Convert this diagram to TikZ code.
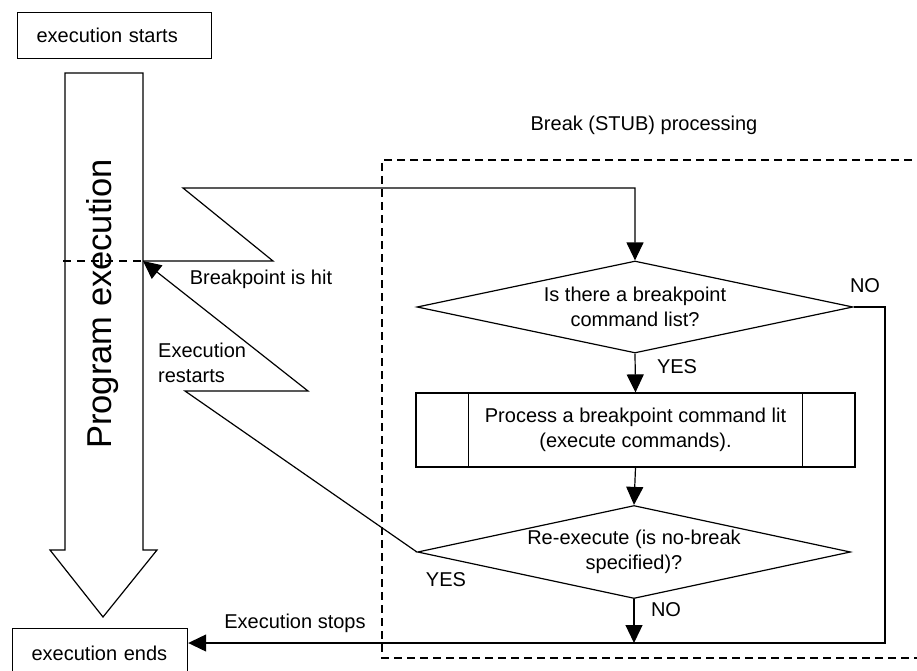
\documentclass[tikz,border=0pt]{standalone}
\usepackage{fontspec}
\setmainfont{Liberation Sans}
\usetikzlibrary{shapes.geometric,arrows.meta,calc}
\begin{document}
\begin{tikzpicture}[x=1pt,y=-1pt,
  every node/.style={font=\fontsize{20}{25}\selectfont},
  line/.style={line width=1.2pt, draw=black},
  arr/.style={line, -{Triangle[length=18pt,width=17pt]}},
  box/.style={draw, line width=1.2pt, rectangle, anchor=north west, inner xsep=19pt, inner ysep=0pt, align=left},
  decision/.style={draw, line width=1.2pt, diamond, inner sep=0pt},
  predef/.style={draw, line width=1.2pt, rectangle, minimum width=439pt, minimum height=74pt, align=center, inner sep=0pt},
  lbl/.style={inner sep=0pt},
  frame/.style={line width=1.2pt, dash pattern=on 8pt off 5pt}
]
\useasboundingbox (0,0) rectangle (917,671);
\clip (0,0) rectangle (917,671);

% start / end boxes
\node[box, text width=156pt, minimum height=46pt] (start) at (17,12) {execution starts};
\node[box, text width=137pt, minimum height=50pt] (end) at (12,628) {execution ends};

% big program execution arrow
\draw[line] (65,73) -- (143,73) -- (143,550) -- (157,550) -- (103,617) -- (50,550) -- (65,550) -- cycle;
\node[rotate=90, font=\fontsize{34.5}{40}\selectfont, inner sep=0pt] (prog) at (103,304) {Program execution};

% break processing frame
\draw[frame] (925,160) -- (382,160) -- (382,658) -- (925,658);
\node[lbl] (stub) at (644,125) {Break (STUB) processing};

% flowchart
\node[decision, minimum width=436pt, minimum height=92pt,
      label={[lbl, align=center]center:{Is there a breakpoint\\command list?}}] (d1) at (635,307) {};
\node[predef] (proc) at (635.5,430) {Process a breakpoint command lit\\(execute commands).};
\draw[line] ([xshift=53pt]proc.north west) -- ([xshift=53pt]proc.south west);
\draw[line] ([xshift=-53pt]proc.north east) -- ([xshift=-53pt]proc.south east);
\node[decision, minimum width=433pt, minimum height=93pt,
      label={[lbl, align=center]center:{Re-execute (is no-break\\specified)?}}] (d2) at (634,552) {};

% coordinates
\coordinate (hit) at (143,261);
\coordinate (shaftL) at (63,261);
\coordinate (z1) at (273,261);
\coordinate (z2) at (183,188);
\coordinate (r1) at (185,391);
\coordinate (r2) at (308,391);
\coordinate (loopx) at (885,0);
\coordinate (stopy) at (0,643);

% connectors
\draw[line, dash pattern=on 8pt off 6pt] (shaftL) -- (hit);
\draw[arr] (hit) -- (z1) -- (z2) -- (z2 -| d1.north) -- (d1.north);
\draw[arr] (d1.south) -- (proc.north);
\draw[arr] (proc.south) -- (d2.north);
\draw[arr] (d2.west) -- (r1) -- (r2) -- (hit);
\draw[arr] (d1.east) -- (d1.east -| loopx) -- (loopx |- stopy) -- (end.east |- stopy);
\draw[arr] (d2.south) -- (d2.south |- stopy);

% labels
\node[lbl] (lhit) at (261,279) {Breakpoint is hit};
\node[lbl, anchor=west, align=left] (lrestart) at (158,362.5) {Execution\\restarts};
\node[lbl] (lstop) at (295,623) {Execution stops};
\node[lbl] (no1) at (865,286) {NO};
\node[lbl] (yes1) at (677,367) {YES};
\node[lbl] (yes2) at (446,580) {YES};
\node[lbl] (no2) at (666,610) {NO};
\end{tikzpicture}
\end{document}
